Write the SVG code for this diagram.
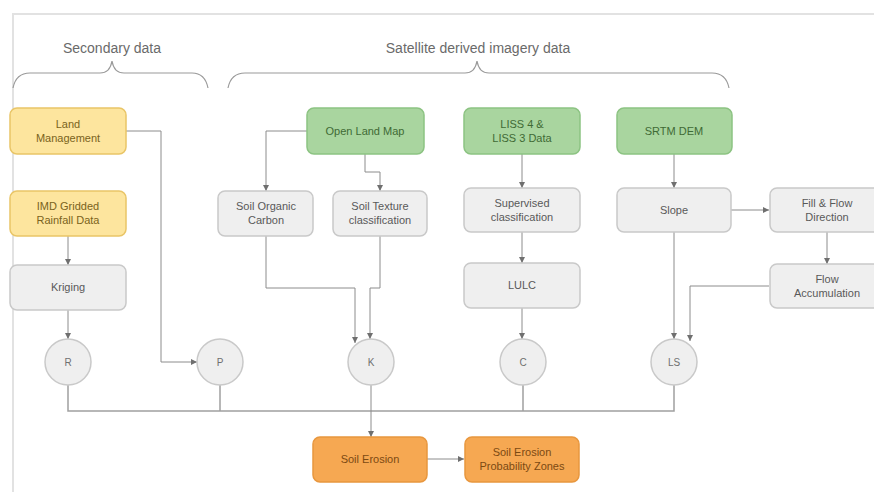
<svg xmlns="http://www.w3.org/2000/svg" width="874" height="492" viewBox="0 0 874 492">
<defs>
<style>
text{font-family:"Liberation Sans",Arial,sans-serif;font-size:11px;text-anchor:middle}
.hdr{font-size:14px;fill:#6a6a6a}
.y rect{fill:#fde59e;stroke:#e9c567;stroke-width:1.5}
.y text{fill:#7a6320}
.g rect{fill:#a9d59f;stroke:#8cc382;stroke-width:1.5}
.g text{fill:#3f6a35}
.n rect{fill:#efefef;stroke:#c9c9c9;stroke-width:1.5}
.n text{fill:#595959}
.o rect{fill:#f6a852;stroke:#e8973e;stroke-width:1.5}
.o text{fill:#7c4a12}
.c circle{fill:#efefef;stroke:#c9c9c9;stroke-width:1.5}
.c text{fill:#707070;font-size:10px}
.ln{fill:none;stroke:#8c8c8c;stroke-width:1}
.bus{fill:none;stroke:#a0a0a0;stroke-width:1.5}
.br{fill:none;stroke:#9a9a9a;stroke-width:1.2}
.fr{fill:none;stroke:#e2e2e2;stroke-width:2}
</style>
<marker id="ar" markerWidth="6" markerHeight="6" refX="6" refY="3" orient="auto" markerUnits="userSpaceOnUse">
<path d="M0,0 L6,3 L0,6 z" fill="#6f6f6f"/>
</marker>
</defs>
<rect width="874" height="492" fill="#ffffff"/>
<path class="fr" d="M13,492 V14 H874"/>
<g id="headers">
<text class="hdr" x="112" y="53">Secondary data</text>
<path class="br" d="M13,88 Q16,73 30,73 H100 Q110,73 112,61 Q114,73 124,73 H192 Q205,73 208,88"/>
<text class="hdr" x="478" y="53">Satellite derived imagery data</text>
<path class="br" d="M228,88 Q231,73 245,73 H465 Q475,73 477,61 Q479,73 489,73 H712 Q726,73 729,88"/>
</g>
<g id="connectors">
<path class="ln" d="M126,131 H161 V362 H197" marker-end="url(#ar)"/>
<path class="ln" d="M68,236 V265" marker-end="url(#ar)"/>
<path class="ln" d="M68,310 V339" marker-end="url(#ar)"/>
<path class="ln" d="M307,131 H266 V191" marker-end="url(#ar)"/>
<path class="ln" d="M365,154 V172 H380 V191" marker-end="url(#ar)"/>
<path class="ln" d="M266,236 V288 H355 V343" marker-end="url(#ar)"/>
<path class="ln" d="M380,236 V288 H370 V339" marker-end="url(#ar)"/>
<path class="ln" d="M522,154 V188" marker-end="url(#ar)"/>
<path class="ln" d="M522,232 V263" marker-end="url(#ar)"/>
<path class="ln" d="M522,308 V339" marker-end="url(#ar)"/>
<path class="ln" d="M674,154 V188" marker-end="url(#ar)"/>
<path class="ln" d="M731,210 H769" marker-end="url(#ar)"/>
<path class="ln" d="M827,232 V264" marker-end="url(#ar)"/>
<path class="ln" d="M674,232 V339" marker-end="url(#ar)"/>
<path class="ln" d="M769,286 H690 V341" marker-end="url(#ar)"/>
<path class="bus" d="M68,385 V411 H674 V385 M220,385 V411 M523,385 V411"/>
<path class="ln" d="M371,385 V437" marker-end="url(#ar)"/>
<path class="ln" d="M427,459 H464" marker-end="url(#ar)"/>
</g>
<g id="land-management" class="y"><rect x="10" y="108" width="116" height="46" rx="7"/><text x="68" y="128">Land</text><text x="68" y="142">Management</text></g>
<g id="imd-rainfall" class="y"><rect x="10" y="191" width="116" height="45" rx="7"/><text x="68" y="210">IMD Gridded</text><text x="68" y="224">Rainfall Data</text></g>
<g id="kriging" class="n"><rect x="10" y="265" width="116" height="45" rx="7"/><text x="68" y="291">Kriging</text></g>
<g id="open-land-map" class="g"><rect x="307" y="108" width="117" height="46" rx="7"/><text x="365" y="135">Open Land Map</text></g>
<g id="soil-organic-carbon" class="n"><rect x="218" y="191" width="95" height="45" rx="7"/><text x="266" y="210">Soil Organic</text><text x="266" y="224">Carbon</text></g>
<g id="soil-texture" class="n"><rect x="333" y="191" width="94" height="45" rx="7"/><text x="380" y="210">Soil Texture</text><text x="380" y="224">classification</text></g>
<g id="liss" class="g"><rect x="464" y="108" width="116" height="46" rx="7"/><text x="522" y="128">LISS 4 &amp;</text><text x="522" y="142">LISS 3 Data</text></g>
<g id="srtm-dem" class="g"><rect x="617" y="108" width="115" height="46" rx="7"/><text x="674" y="135">SRTM DEM</text></g>
<g id="supervised" class="n"><rect x="464" y="188" width="116" height="44" rx="7"/><text x="522" y="207">Supervised</text><text x="522" y="221">classification</text></g>
<g id="slope" class="n"><rect x="617" y="188" width="114" height="44" rx="7"/><text x="674" y="214">Slope</text></g>
<g id="fill-flow" class="n"><rect x="770" y="188" width="114" height="44" rx="7"/><text x="827" y="207">Fill &amp; Flow</text><text x="827" y="221">Direction</text></g>
<g id="lulc" class="n"><rect x="464" y="263" width="116" height="45" rx="7"/><text x="522" y="289">LULC</text></g>
<g id="flow-accumulation" class="n"><rect x="770" y="264" width="114" height="44" rx="7"/><text x="827" y="283">Flow</text><text x="827" y="297">Accumulation</text></g>
<g id="r" class="c"><circle cx="68" cy="362" r="23"/><text x="68" y="366">R</text></g>
<g id="p" class="c"><circle cx="220" cy="362" r="23"/><text x="220" y="366">P</text></g>
<g id="k" class="c"><circle cx="371" cy="362" r="23"/><text x="371" y="366">K</text></g>
<g id="c" class="c"><circle cx="523" cy="362" r="23"/><text x="523" y="366">C</text></g>
<g id="ls" class="c"><circle cx="674" cy="362" r="23"/><text x="674" y="366">LS</text></g>
<g id="soil-erosion" class="o"><rect x="313" y="437" width="114" height="45" rx="7"/><text x="370" y="463">Soil Erosion</text></g>
<g id="soil-erosion-zones" class="o"><rect x="465" y="437" width="114" height="45" rx="7"/><text x="522" y="456">Soil Erosion</text><text x="522" y="470">Probability Zones</text></g>
</svg>
